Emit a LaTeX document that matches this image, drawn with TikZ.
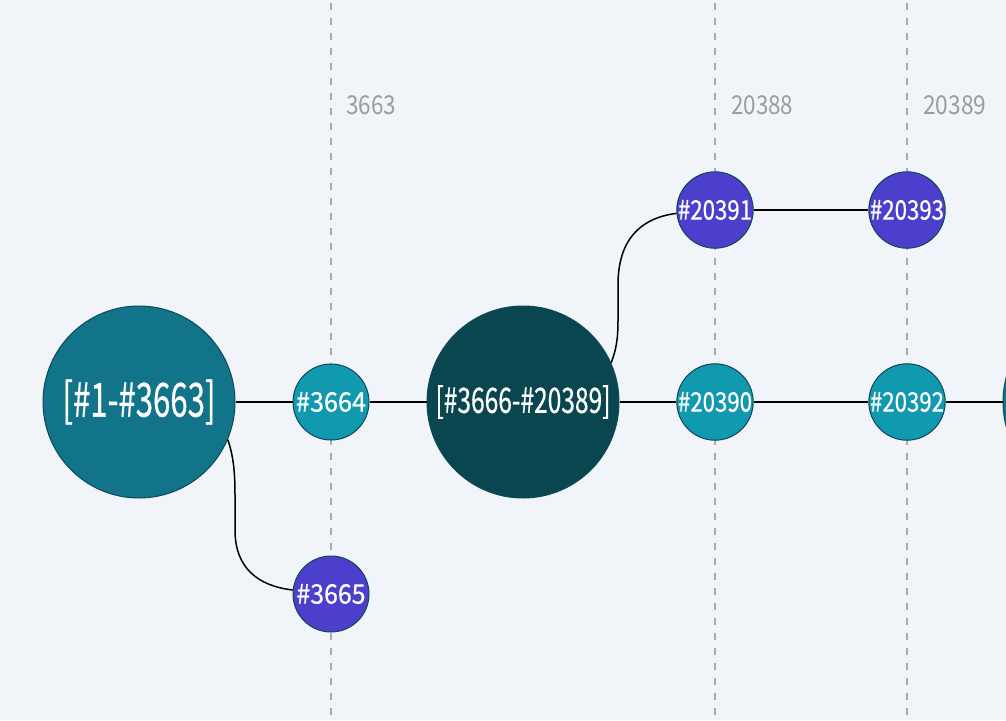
\documentclass[tikz,border=0pt]{standalone}
\usepackage{fontspec}
\setmainfont{Noto Sans CJK SC}
\newfontfamily\nodefont[FakeBold=0.6]{Noto Sans CJK SC}
\usepackage{graphicx}
\definecolor{bgc}{HTML}{F1F5F9}
\definecolor{tealS}{HTML}{1199B0}
\definecolor{tealB}{HTML}{11748A}
\definecolor{darkB}{HTML}{0A4650}
\definecolor{purp}{HTML}{4C3FCC}
\definecolor{ring}{HTML}{0D4A55}
\definecolor{axisc}{HTML}{ABABAB}
\definecolor{axist}{HTML}{9C9C9C}
\newcommand\fitw[2]{\resizebox{#1pt}{\height}{#2}}
\tikzset{
  gridline/.style={draw=axisc, line width=1.3pt, dash pattern=on 7.5pt off 7.5pt},
  axislabel/.style={anchor=west, inner sep=0pt, text=axist, font=\fontsize{26pt}{28pt}\selectfont},
  smallnode/.style={circle, draw=ring, line width=1pt, minimum size=76pt, inner sep=0pt, text=white, font=\nodefont\fontsize{27pt}{30pt}\selectfont},
  bignode/.style={circle, draw=ring, line width=1pt, minimum size=192pt, inner sep=0pt, text=white},
  link/.style={draw=black, line width=1.5pt},
}
\begin{document}
\begin{tikzpicture}[x=1pt,y=-1pt]
\useasboundingbox (0,0) rectangle (1006,720);
\fill[bgc] (0,0) rectangle (1006,720);
\clip (0,0) rectangle (1006,720);
% grid lines
\coordinate (g1t) at (331,2.5); \coordinate (g1b) at (331,716);
\coordinate (g2t) at (715,2.5); \coordinate (g2b) at (715,716);
\coordinate (g3t) at (907,2.5); \coordinate (g3b) at (907,716);
\draw[gridline] (g1t) -- (g1b);
\draw[gridline] (g2t) -- (g2b);
\draw[gridline] (g3t) -- (g3b);
\node[axislabel] (l1) at (346,105.5) {\fitw{50}{3663}};
\node[axislabel] (l2) at (731,105.5) {\fitw{62}{20388}};
\node[axislabel] (l3) at (923,105.5) {\fitw{63}{20389}};
% nodes
\node[bignode, fill=tealB, font=\nodefont\fontsize{47pt}{50pt}\selectfont] (a) at (139,402) {\fitw{153}{[\#1-\#3663]}};
\node[smallnode, fill=tealS] (n3664) at (331,402) {\fitw{70}{\#3664}};
\node[smallnode, fill=purp] (n3665) at (331,594) {\fitw{69}{\#3665}};
\node[bignode, fill=darkB, font=\nodefont\fontsize{35pt}{38pt}\selectfont] (b) at (523,402) {\fitw{175}{[\#3666-\#20389]}};
\node[smallnode, fill=tealS] (n20390) at (715,402) {\fitw{74}{\#20390}};
\node[smallnode, fill=purp] (n20391) at (715,210) {\fitw{74}{\#20391}};
\node[smallnode, fill=tealS] (n20392) at (907,402) {\fitw{74}{\#20392}};
\node[smallnode, fill=purp] (n20393) at (907,210) {\fitw{74}{\#20393}};
\node[bignode, fill=tealB] (c) at (1099,402) {};
% links
\draw[link] (a) -- (n3664);
\draw[link] (n3664) -- (b);
\draw[link] (b) -- (n20390);
\draw[link] (n20390) -- (n20392);
\draw[link] (n20392) -- (c);
\draw[link] (n20391) -- (n20393);
\draw[link] (a.-23) .. controls (233,455) and (235,470) .. (235,495) -- (235,530) .. controls (235,568) and (258,586) .. (n3665.174);
\draw[link] (b.24) .. controls (616,350) and (618,340) .. (618,320) -- (618,285) .. controls (618,240) and (640,218) .. (n20391.185);
\end{tikzpicture}
\end{document}
